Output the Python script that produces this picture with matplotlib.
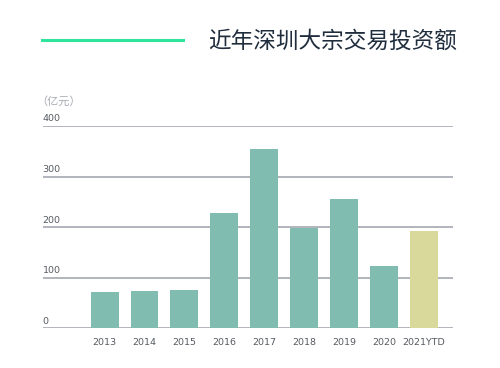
import matplotlib
matplotlib.use("Agg")
import matplotlib.pyplot as plt

plt.rcParams['font.family'] = ['Noto Sans CJK SC', 'DejaVu Sans']

categories = ["2013", "2014", "2015", "2016", "2017", "2018", "2019", "2020", "2021YTD"]
values = [72, 74, 75, 228, 354, 199, 255, 123, 193]
colors = ["#80bcaf"] * 8 + ["#d9d99b"]
yticks = [0, 100, 200, 300, 400]
title = "近年深圳大宗交易投资额"
unit = "（亿元）"

W, H = 500, 368
fig = plt.figure(figsize=(W / 100, H / 100), dpi=100)
fig.patch.set_facecolor("white")

x0, x1 = 42.7, 453
y_top, y_bot = 126, 328.3
ax = fig.add_axes([x0 / W, 1 - y_bot / H, (x1 - x0) / W, (y_bot - y_top) / H])
ax.set_xlim(-1.55, 8.73)
ax.set_ylim(0, 400)

num_font = ['DejaVu Sans']
for yv in yticks:
    ax.axhline(yv, color="#9ca0aa", lw=1.1, zorder=1)
    ax.text(-1.55, yv + 5, str(yv), fontsize=6.8, color="#555a60", ha="left", va="bottom",
            family=num_font)

xs = list(range(len(categories)))
ax.bar(xs, values, width=0.70, color=colors, zorder=2)

ax.set_xticks(xs)
ax.set_xticklabels(categories, fontsize=6.8, color="#555a60", family=num_font)
ax.tick_params(axis="x", length=0, pad=7)
ax.set_yticks([])
for s in ax.spines.values():
    s.set_visible(False)
ax.patch.set_alpha(0)

fig.text(36 / W, 1 - 101 / H, unit, fontsize=8, color="#a8acb2", ha="left", va="center")

fig.add_artist(plt.Line2D([42 / W, 183 / W], [1 - 40 / H, 1 - 40 / H], color="#2ee39a", lw=2.2))
fig.text(208 / W, 1 - 41 / H, title, fontsize=16.3, color="#1f2d3d", ha="left", va="center",
         fontweight="light")

fig.savefig("out.png", dpi=100, facecolor="white")
